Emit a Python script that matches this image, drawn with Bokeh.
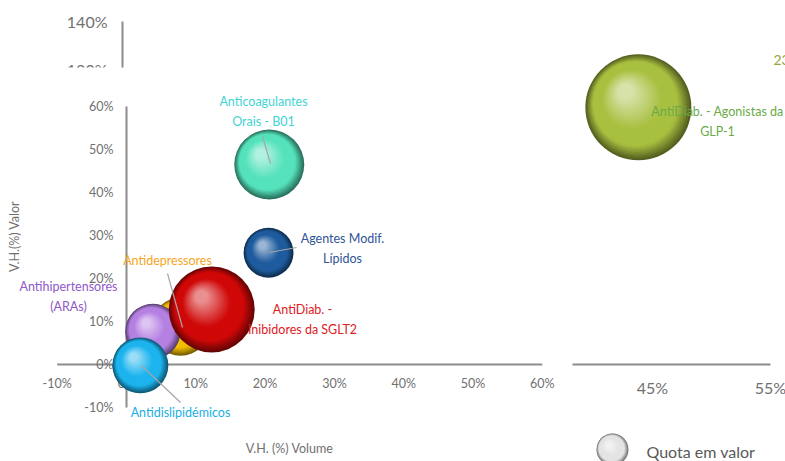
import math
from bokeh.plotting import figure
from bokeh.models import Range1d
from bokeh.core.properties import value
from bokeh.embed import file_html
from bokeh.resources import INLINE

# ---------------- data ----------------
categories = ["Anticoagulantes Orais - B01", "Agentes Modif. Lípidos", "Antidepressores",
              "Antihipertensores (ARAs)", "AntiDiab. - Inibidores da SGLT2",
              "Antidislipidémicos", "AntiDiab. - Agonistas da GLP-1"]
vol = [0.206, 0.205, 0.078, 0.038, 0.123, 0.020, 0.438]      # V.H. (%) Volume
val = [0.465, 0.260, 0.088, 0.077, 0.128, -0.002, 0.598]     # V.H.(%) Valor
quota = [6.1, 3.1, 4.2, 3.8, 9.2, 3.9, 14.0]                 # Quota em valor
label_text = ["Anticoagulantes\nOrais - B01", "Agentes Modif.\nLípidos", "Antidepressores",
              "Antihipertensores\n(ARAs)", "AntiDiab. -\nInibidores da SGLT2",
              "Antidislipidémicos", "AntiDiab. - Agonistas da\nGLP-1"]
x_ticks = [-0.1, 0.0, 0.1, 0.2, 0.3, 0.4, 0.5, 0.6]
x_tick_labels = ["-10%", "0%", "10%", "20%", "30%", "40%", "50%", "60%"]
y_ticks = [-0.1, 0.0, 0.1, 0.2, 0.3, 0.4, 0.5, 0.6]
y_tick_labels = ["-10%", "0%", "10%", "20%", "30%", "40%", "50%", "60%"]
top_ticks = [1.4, 1.2]
top_tick_labels = ["140%", "120%"]
right_ticks = [0.45, 0.55]
right_tick_labels = ["45%", "55%"]

# ---------------- styles / layout ----------------
FONT = "Lato"
W, H = 785, 461
PXX, X0 = 693.0, 126.0      # main x scale: px per unit, px of x=0
PXY, Y0 = 430.0, 364.0      # main y scale
RPX = 1180.0                # right panel x scale
TPX = 240.0                 # top snippet y scale

bubble_colors = ["#55e2bc", "#1f5c9e", "#f2be00", "#b480e2", "#d00808", "#1db4ee", "#a8c040"]
label_colors = ["#3fd3d3", "#2f5597", "#f5a623", "#9058c8", "#e0201e", "#1aaee0", "#6aaa48"]
panel = ["main", "main", "main", "main", "main", "main", "right"]
draw_order = [6, 0, 1, 2, 3, 4, 5]
# label centres in picture pixels
label_pos = [(263, 111), (342, 248), (167, 260), (68, 296), (302, 319), (180, 412), (717, 121)]
leaders = {0: ((262, 136), (270, 163)), 1: ((296, 247), (269, 252)),
           2: ((167, 273), (182, 327)), 5: ((180, 402), (141, 365))}

GRAY = "#707070"
AXIS = "#8c8c8c"

xr0 = -X0 / PXX
yr1 = Y0 / PXY
rx0 = 0.45 - 652 / RPX
ty1 = 1.40 + 21 / TPX


def mx(px):
    return (px - X0) / PXX


def my(py):
    return (Y0 - py) / PXY


def rx(px):
    return rx0 + px / RPX


def ty(py):
    return ty1 - py / TPX


p = figure(width=W, height=H, output_backend="svg", toolbar_location=None,
           x_range=Range1d(xr0, xr0 + W / PXX), y_range=Range1d(yr1 - H / PXY, yr1),
           x_axis_type=None, y_axis_type=None, min_border=0)
p.extra_x_ranges = {"rx": Range1d(rx0, rx0 + W / RPX)}
p.extra_y_ranges = {"ty": Range1d(ty1 - H / TPX, ty1)}
p.outline_line_color = None
p.background_fill_color = "white"
p.border_fill_color = "white"

# ---------------- axes ----------------
p.segment(x0=[x_ticks[0]], y0=[0], x1=[x_ticks[-1]], y1=[0], line_color=AXIS, line_width=2)
p.segment(x0=[0], y0=[y_ticks[0]], x1=[0], y1=[y_ticks[-1]], line_color=AXIS, line_width=2)
p.text(x=x_ticks, y=[my(383)] * len(x_ticks), text=x_tick_labels, text_align="center",
       text_baseline="middle", text_color=GRAY, text_font=value(FONT), text_font_size="12.5px")
p.text(x=[mx(113)] * len(y_ticks), y=y_ticks, text=y_tick_labels, text_align="right",
       text_baseline="middle", text_color=GRAY, text_font=value(FONT), text_font_size="12.5px")

# top snippet of the broken value axis
p.segment(x0=[mx(122)], y0=[top_ticks[0]], x1=[mx(122)], y1=[top_ticks[1]],
          y_range_name="ty", line_color=AXIS, line_width=2)
p.text(x=[mx(107)] * 2, y=top_ticks, text=top_tick_labels, y_range_name="ty",
       text_align="right", text_baseline="middle", text_color=GRAY,
       text_font=value(FONT), text_font_size="16px")
p.quad(left=[mx(30)], right=[mx(140)], top=[ty(67)], bottom=[ty(100)], y_range_name="ty",
       fill_color="white", line_color=None)

# right panel of the broken volume axis
p.segment(x0=[rx(572)], y0=[0], x1=[right_ticks[-1]], y1=[0], x_range_name="rx",
          line_color=AXIS, line_width=2)
p.text(x=right_ticks, y=[my(387)] * 2, text=right_tick_labels, x_range_name="rx",
       text_align="center", text_baseline="middle", text_color=GRAY,
       text_font=value(FONT), text_font_size="16px")

# axis titles
p.text(x=[mx(289)], y=[my(448)], text=["V.H. (%) Volume"], text_align="center",
       text_baseline="middle", text_color=GRAY, text_font=value(FONT), text_font_size="12.5px")
p.text(x=[mx(14)], y=[my(236)], text=["V.H.(%) Valor"], angle=math.pi / 2,
       text_align="center", text_baseline="middle", text_color=GRAY,
       text_font=value(FONT), text_font_size="12.5px")


# ---------------- bubbles ----------------
def hex2rgb(h):
    h = h.lstrip("#")
    return [int(h[i:i + 2], 16) for i in (0, 2, 4)]


def mix(c1, c2, t):
    return "#%02x%02x%02x" % tuple(int(round(a + (b - a) * t)) for a, b in zip(c1, c2))


def shade(base, t, dark_f=0.5):
    b = hex2rgb(base)
    dark = [int(v * dark_f) for v in b]
    light = [int(v + (255 - v) * 0.55) for v in b]
    if t < 0.22:
        return mix(dark, b, t / 0.22)
    if t < 0.5:
        return mix(b, b, 0)
    return mix(b, light, (t - 0.5) / 0.5)


def sphere(xc, yc, r, base, sx, x_range_name="default", n=30):
    xs, ys, sz, cols = [], [], [], []
    for k in range(n):
        t = k / (n - 1)
        xs.append(xc - 0.24 * r * t / sx)
        ys.append(yc + 0.30 * r * t / PXY)
        sz.append(2 * r * (1 - 0.85 * t))
        cols.append(shade(base, t))
    p.scatter(x=xs, y=ys, size=sz, marker="circle", fill_color=cols, line_color=None,
              x_range_name=x_range_name)


RMAX = 53.0
for i in draw_order:
    r = RMAX * math.sqrt(quota[i] / max(quota))
    if panel[i] == "right":
        sphere(vol[i], val[i], r, bubble_colors[i], RPX, "rx")
    else:
        sphere(vol[i], val[i], r, bubble_colors[i], PXX)

# legend bubble
sphere(mx(612), my(449), 16, "#e4e4e4", PXX)
p.text(x=[mx(646)], y=[my(451)], text=["Quota em valor"], text_align="left",
       text_baseline="middle", text_color="#595959", text_font=value(FONT), text_font_size="16px")

# ---------------- leader lines and labels ----------------
for i, ((ax, ay), (bx, by)) in leaders.items():
    p.segment(x0=[mx(ax)], y0=[my(ay)], x1=[mx(bx)], y1=[my(by)], line_color="#a6a6a6",
              line_width=1.2)

for i in range(len(categories)):
    lx, ly = label_pos[i]
    p.text(x=[mx(lx)], y=[my(ly)], text=[label_text[i]], text_align="center",
           text_baseline="middle", text_color=label_colors[i], text_font=value(FONT),
           text_font_size="12.5px", text_line_height=1.3)

p.text(x=[mx(773)], y=[my(59)], text=["23"], text_align="left", text_baseline="middle",
       text_color="#9ca23c", text_font=value(FONT), text_font_size="14px")

open("out.html", "w").write(file_html(p, INLINE))
